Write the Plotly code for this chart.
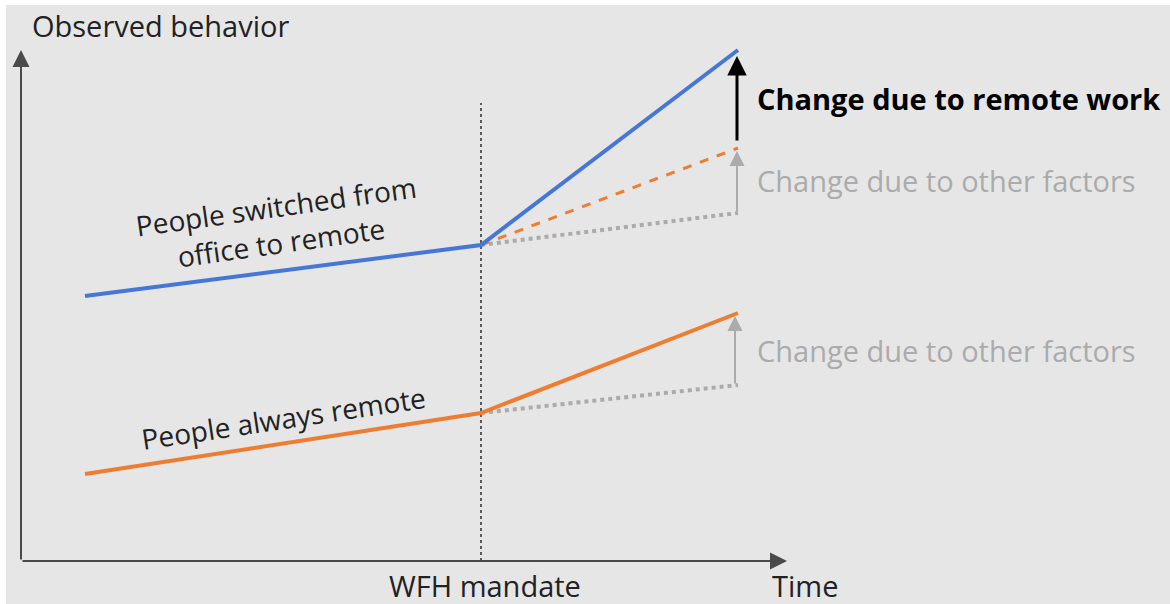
import plotly.graph_objects as go

# ---- data (abstract units: time along x, observed behavior along y) ----
period_labels = ["start", "WFH mandate", "end"]
time_points = [64, 460, 717]
switched_office_to_remote = [265, 316, 511]
always_remote = [87, 148, 248]
switched_trend_end = 348      # continuation of pre-trend
switched_other_end = 413      # trend + change due to other factors
always_trend_end = 176        # continuation of pre-trend
y_axis_top = 511
x_axis_end = 766

BLUE = "#4677d6"
ORANGE = "#ee7d31"
GRAY = "#ababab"
FONT = "Open Sans"

fig = go.Figure()

t0, tm, t1 = time_points

# vertical dotted line at mandate
fig.add_trace(go.Scatter(x=[tm, tm], y=[0, 458], mode="lines",
                         line=dict(color="#5a5a5a", width=2, dash="dot"),
                         hoverinfo="skip", showlegend=False))
# trend continuation lines (dotted gray)
fig.add_trace(go.Scatter(x=[tm, t1], y=[switched_office_to_remote[1], switched_trend_end],
                         mode="lines", line=dict(color=GRAY, width=4, dash="dot"),
                         showlegend=False))
fig.add_trace(go.Scatter(x=[tm, t1], y=[always_remote[1], always_trend_end],
                         mode="lines", line=dict(color=GRAY, width=4, dash="dot"),
                         showlegend=False))
# counterfactual with other factors (dashed orange)
fig.add_trace(go.Scatter(x=[tm, t1], y=[switched_office_to_remote[1], switched_other_end],
                         mode="lines", line=dict(color=ORANGE, width=3, dash="dash"),
                         showlegend=False))
# main series
fig.add_trace(go.Scatter(x=time_points, y=switched_office_to_remote, mode="lines",
                         line=dict(color=BLUE, width=4), name="People switched from office to remote",
                         showlegend=False))
fig.add_trace(go.Scatter(x=time_points, y=always_remote, mode="lines",
                         line=dict(color=ORANGE, width=4), name="People always remote",
                         showlegend=False))

ann = []
# axes arrows
ann.append(dict(x=0, y=y_axis_top, ax=0, ay=0, xref="x", yref="y", axref="x", ayref="y",
                showarrow=True, arrowhead=2, arrowsize=1.7, arrowwidth=2, arrowcolor="#4a4a4a", text=""))
ann.append(dict(x=x_axis_end, y=0, ax=0, ay=0, xref="x", yref="y", axref="x", ayref="y",
                showarrow=True, arrowhead=2, arrowsize=1.7, arrowwidth=2, arrowcolor="#4a4a4a", text=""))
# change arrows
ax_x = t1 - 1
ann.append(dict(x=ax_x, y=switched_office_to_remote[2], ax=ax_x, ay=switched_other_end + 6,
                xref="x", yref="y", axref="x", ayref="y", showarrow=True, arrowhead=2,
                arrowsize=1.3, arrowwidth=3, arrowcolor="black", standoff=6, text=""))
ann.append(dict(x=ax_x, y=switched_other_end, ax=ax_x, ay=switched_trend_end,
                xref="x", yref="y", axref="x", ayref="y", showarrow=True, arrowhead=2,
                arrowsize=1.5, arrowwidth=2, arrowcolor=GRAY, standoff=3, text=""))
ann.append(dict(x=ax_x - 2, y=always_remote[2], ax=ax_x - 2, ay=always_trend_end,
                xref="x", yref="y", axref="x", ayref="y", showarrow=True, arrowhead=2,
                arrowsize=1.5, arrowwidth=2, arrowcolor=GRAY, standoff=3, text=""))

# texts
def txt(text, x, y, size=29, color="#222", xanchor="left", angle=0, bold=False):
    if bold:
        text = "<b>" + text + "</b>"
    ann.append(dict(x=x, y=y, xref="x", yref="y", text=text, showarrow=False,
                    xanchor=xanchor, yanchor="middle", textangle=angle,
                    font=dict(family=FONT, size=size, color=color)))

txt("Observed behavior", 9, 536)
txt("Time", 749, -24)
txt("WFH mandate", tm + 4, -24, xanchor="center")
txt("Change due to remote work", 734, 463, color="black", bold=True)
txt("Change due to other factors", 734, 381, color=GRAY)
txt("Change due to other factors", 734, 211, color=GRAY)
txt("People switched from<br>office to remote", 257, 337, size=28, xanchor="center", angle=-8)
txt("People always remote", 262, 143, size=28, xanchor="center", angle=-8.5)

fig.update_layout(
    width=1170, height=604,
    margin=dict(l=0, r=0, t=0, b=0),
    paper_bgcolor="white", plot_bgcolor="rgba(0,0,0,0)",
    xaxis=dict(range=[-21, 1149], visible=False, fixedrange=True),
    yaxis=dict(range=[-43, 561], visible=False, fixedrange=True),
    annotations=ann,
    shapes=[dict(type="rect", xref="paper", yref="paper", x0=6/1170, x1=1, y0=0, y1=1 - 5/604,
                 fillcolor="#e6e6e6", line=dict(width=0), layer="below")],
    showlegend=False,
    hovermode=False,
)

fig.write_html("out.html", config={"displayModeBar": False, "staticPlot": True},
               post_script="document.body.style.margin='0';")
